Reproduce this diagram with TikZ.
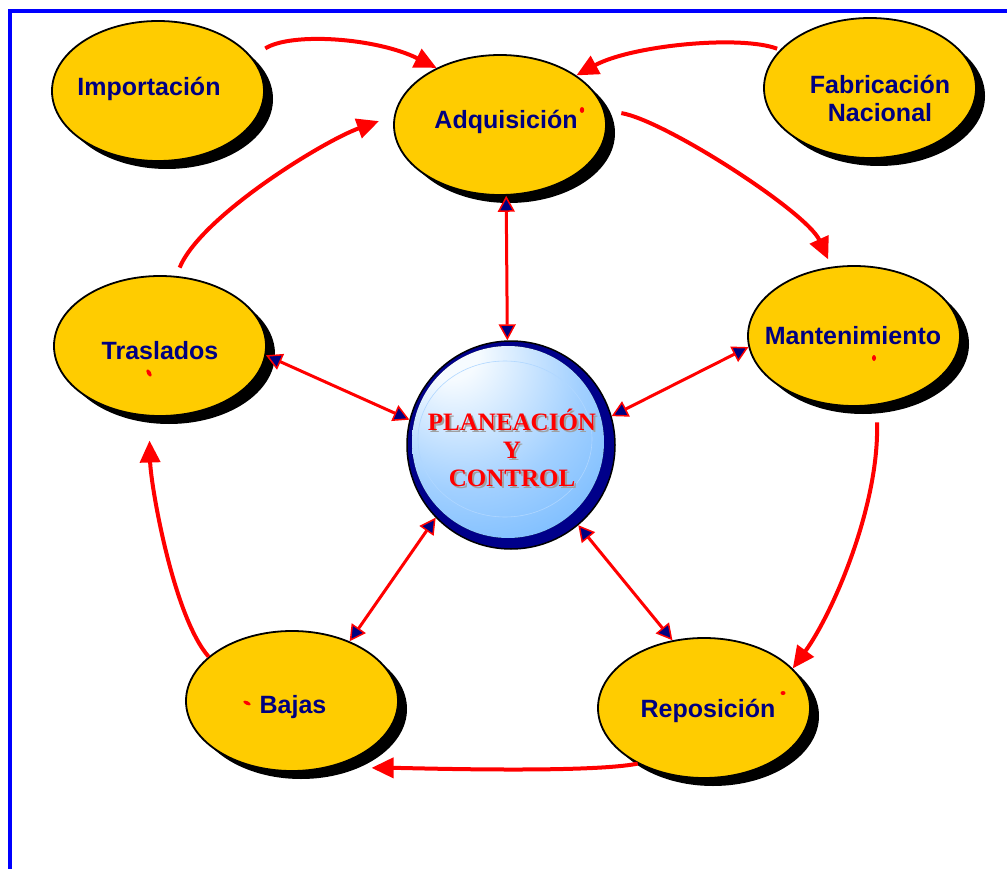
\documentclass[tikz,border=0pt]{standalone}
\usepackage{fontspec}
\setmainfont{Liberation Sans}
\newfontfamily\globefont{Liberation Serif}
\usetikzlibrary{shapes.geometric,arrows.meta,shadows}

\definecolor{ovalfill}{HTML}{FFCC00}
\definecolor{labelnavy}{HTML}{000080}
\definecolor{ringnavy}{HTML}{00008A}
\definecolor{flowred}{HTML}{FF0000}
\definecolor{frameblue}{HTML}{0000FF}
\definecolor{globeA}{HTML}{F6FBFF}
\definecolor{globeB}{HTML}{A2D0FF}
\definecolor{globeC}{HTML}{4FA7FF}
\definecolor{textshade}{HTML}{A0A0A0}

% light spot sits up and to the left of the globe's centre
\pgfdeclareradialshading{globeshade}{\pgfpoint{-16bp}{25bp}}{%
  color(0bp)=(globeA); color(7bp)=(globeA); color(30bp)=(globeB);
  color(62bp)=(globeC); color(100bp)=(globeC)}

\tikzset{
  oval/.style={ellipse, draw=black, line width=1.8pt, fill=ovalfill,
    minimum width=212pt, minimum height=140pt, inner sep=0pt,
    drop shadow={shadow xshift=9pt, shadow yshift=-8pt, fill=black, opacity=1}},
  ovaltext/.style={font=\fontsize{25}{28}\selectfont\bfseries, text=labelnavy,
    align=center, inner sep=0pt},
  flow/.style={draw=flowred, line width=4pt, -{Triangle[length=22pt,width=20pt]}},
  link/.style={draw=flowred, line width=3pt,
    {Triangle[length=16pt,width=17pt,fill=labelnavy,line width=1.5pt]}-{Triangle[length=16pt,width=17pt,fill=labelnavy,line width=1.5pt]}},
  globetext/.style={font=\globefont\bfseries\fontsize{25}{28}\selectfont, align=center}
}

\begin{document}
\begin{tikzpicture}[x=1pt,y=-1pt]
\useasboundingbox (0,0) rectangle (1007,869);

% page frame (top and left edges)
\draw[frameblue, line width=4pt] (10,880) -- (10,11.5) -- (1020,11.5);

% central globe
\node[circle, fill=ringnavy, draw=black, line width=1.5pt, minimum size=208pt, inner sep=0pt] (globe) at (511,445) {};
\fill[shading=globeshade] (508,442) circle (96pt);
\draw[white!55!globeC, line width=0.6pt] (505,439) ellipse (87pt and 78pt);
\node[globetext, text=textshade] (ctrlshade) at (514,450) {PLANEACIÓN\\Y\\CONTROL};
\node[globetext, text=flowred] (ctrl) at (512,448) {PLANEACIÓN\\Y\\CONTROL};

% stages
\node[oval] (imp)  at (158,91)  {};
\node[oval] (adq)  at (500,125) {};
\node[oval] (fab)  at (870,88)  {};
\node[oval] (mant) at (854,336) {};
\node[oval] (tras) at (160,346) {};
\node[oval] (baj)  at (292,701) {};
\node[oval] (repo) at (704,708) {};

% stage names
\node[ovaltext, anchor=base] (impT)  at (149,96)  {Importación};
\node[ovaltext, anchor=base] (adqT)  at (506,129) {Adquisición};
\node[ovaltext]              (fabT)  at (880,98)  {Fabricación\\Nacional};
\node[ovaltext, anchor=base] (mantT) at (853,344) {Mantenimiento};
\node[ovaltext, anchor=base] (trasT) at (160,359) {Traslados};
\node[ovaltext, anchor=base] (bajT)  at (293,713) {Bajas};
\node[ovaltext, anchor=base] (repoT) at (708,717) {Reposición};

% small red marks
\fill[flowred] (582,110) ellipse (2.2pt and 3pt);
\fill[flowred, rotate around={-60:(149,373)}] (149,373) ellipse (4pt and 2pt);
\fill[flowred] (874,358) ellipse (2pt and 3pt);
\fill[flowred, rotate around={-25:(247,703)}] (247,703) ellipse (4pt and 1.8pt);
\fill[flowred] (783,693) ellipse (2.5pt and 2pt);

% links with the centre
\draw[link] (adq.-85) -- (globe.92);
\draw[link] (tras.-5) -- (globe.166);
\draw[link] (mant.186) -- (globe.16);
\draw[link] (baj.46) -- (globe.224);
\draw[link] (repo.115) -- (globe.310);

% cycle of flows
\draw[flow, shorten <=16pt] (imp.20) .. controls +(40,-25) and +(-60,-30) .. (adq.138);
\draw[flow, shorten <=3pt] (fab.157) .. controls +(-40,-15) and +(55,-30) .. (adq.33);
\draw[flow, shorten <=17pt, shorten >=8pt] (adq.8) .. controls +(60,10) and +(-25,-55) .. (mant.108);
\draw[flow, shorten <=17pt] (mant.-72) .. controls +(3,100) and +(40,-55) .. (repo.24);
\draw[flow, shorten >=44pt] (repo.220) .. controls +(-50,10) and +(80,0) .. (baj.-62);
\draw[flow, shorten >=24pt] (baj.152) .. controls +(-35,-40) and +(2,70) .. (tras.-99);
\draw[flow, shorten <=9pt, shorten >=16pt] (tras.77) .. controls +(25,-60) and +(-70,25) .. (adq.175);
\end{tikzpicture}
\end{document}
